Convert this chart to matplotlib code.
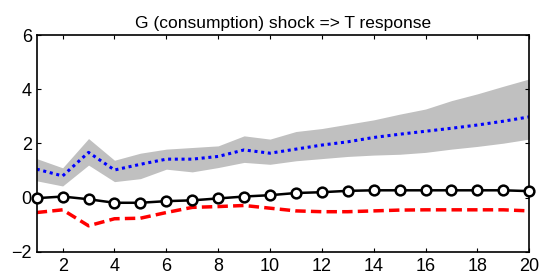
import matplotlib
matplotlib.use("Agg")
import matplotlib.pyplot as plt

plt.rcParams['font.family'] = ['Liberation Sans', 'DejaVu Sans']

horizon = list(range(1, 21))
band_upper = [1.44, 1.10, 2.18, 1.38, 1.64, 1.79, 1.85, 1.91, 2.28, 2.16,
              2.44, 2.55, 2.71, 2.87, 3.08, 3.27, 3.58, 3.83, 4.11, 4.38]
band_lower = [0.62, 0.43, 1.20, 0.59, 0.70, 1.05, 0.95, 1.11, 1.30, 1.23,
              1.36, 1.44, 1.52, 1.57, 1.60, 1.67, 1.79, 1.89, 2.01, 2.16]
blue_resp = [1.05, 0.80, 1.67, 1.02, 1.23, 1.42, 1.42, 1.52, 1.76, 1.64,
             1.79, 1.94, 2.06, 2.22, 2.34, 2.45, 2.56, 2.68, 2.82, 2.98]
black_resp = [-0.02, 0.04, -0.06, -0.19, -0.19, -0.13, -0.10, -0.03, 0.04, 0.09,
              0.17, 0.20, 0.25, 0.27, 0.27, 0.27, 0.27, 0.27, 0.27, 0.24]
red_resp = [-0.55, -0.45, -1.04, -0.78, -0.76, -0.55, -0.36, -0.33, -0.29, -0.39,
            -0.49, -0.52, -0.52, -0.49, -0.46, -0.45, -0.45, -0.45, -0.45, -0.49]

fig = plt.figure(figsize=(5.4, 2.74), dpi=100)
ax = fig.add_axes([0.068, 0.081, 0.912, 0.791])

ax.fill_between(horizon, band_lower, band_upper, color='#c0c0c0', lw=0)
ax.plot(horizon, blue_resp, color='b', lw=2.2, linestyle=(0, (1, 1.2)))
ax.plot(horizon, red_resp, color='r', lw=2.5, linestyle=(0, (3, 1.5)))
ax.plot(horizon, black_resp, color='k', lw=1.8, marker='o', markersize=7,
        markerfacecolor='white', markeredgewidth=1.8, clip_on=False, zorder=5)

ax.set_xlim(1, 20)
ax.set_ylim(-2, 6)
ax.set_xticks(range(2, 21, 2))
ax.set_yticks([-2, 0, 2, 4, 6])
ax.tick_params(direction='in', top=True, right=True, labelsize=13, length=3,
               width=0.8)
ax.tick_params(axis='x', pad=4.5)
ax.tick_params(axis='y', pad=3.5)
for side in ax.spines.values():
    side.set_linewidth(1.2)
ax.set_title("G (consumption) shock => T response", fontsize=12.5, pad=5)

fig.savefig("out.png", dpi=100)
